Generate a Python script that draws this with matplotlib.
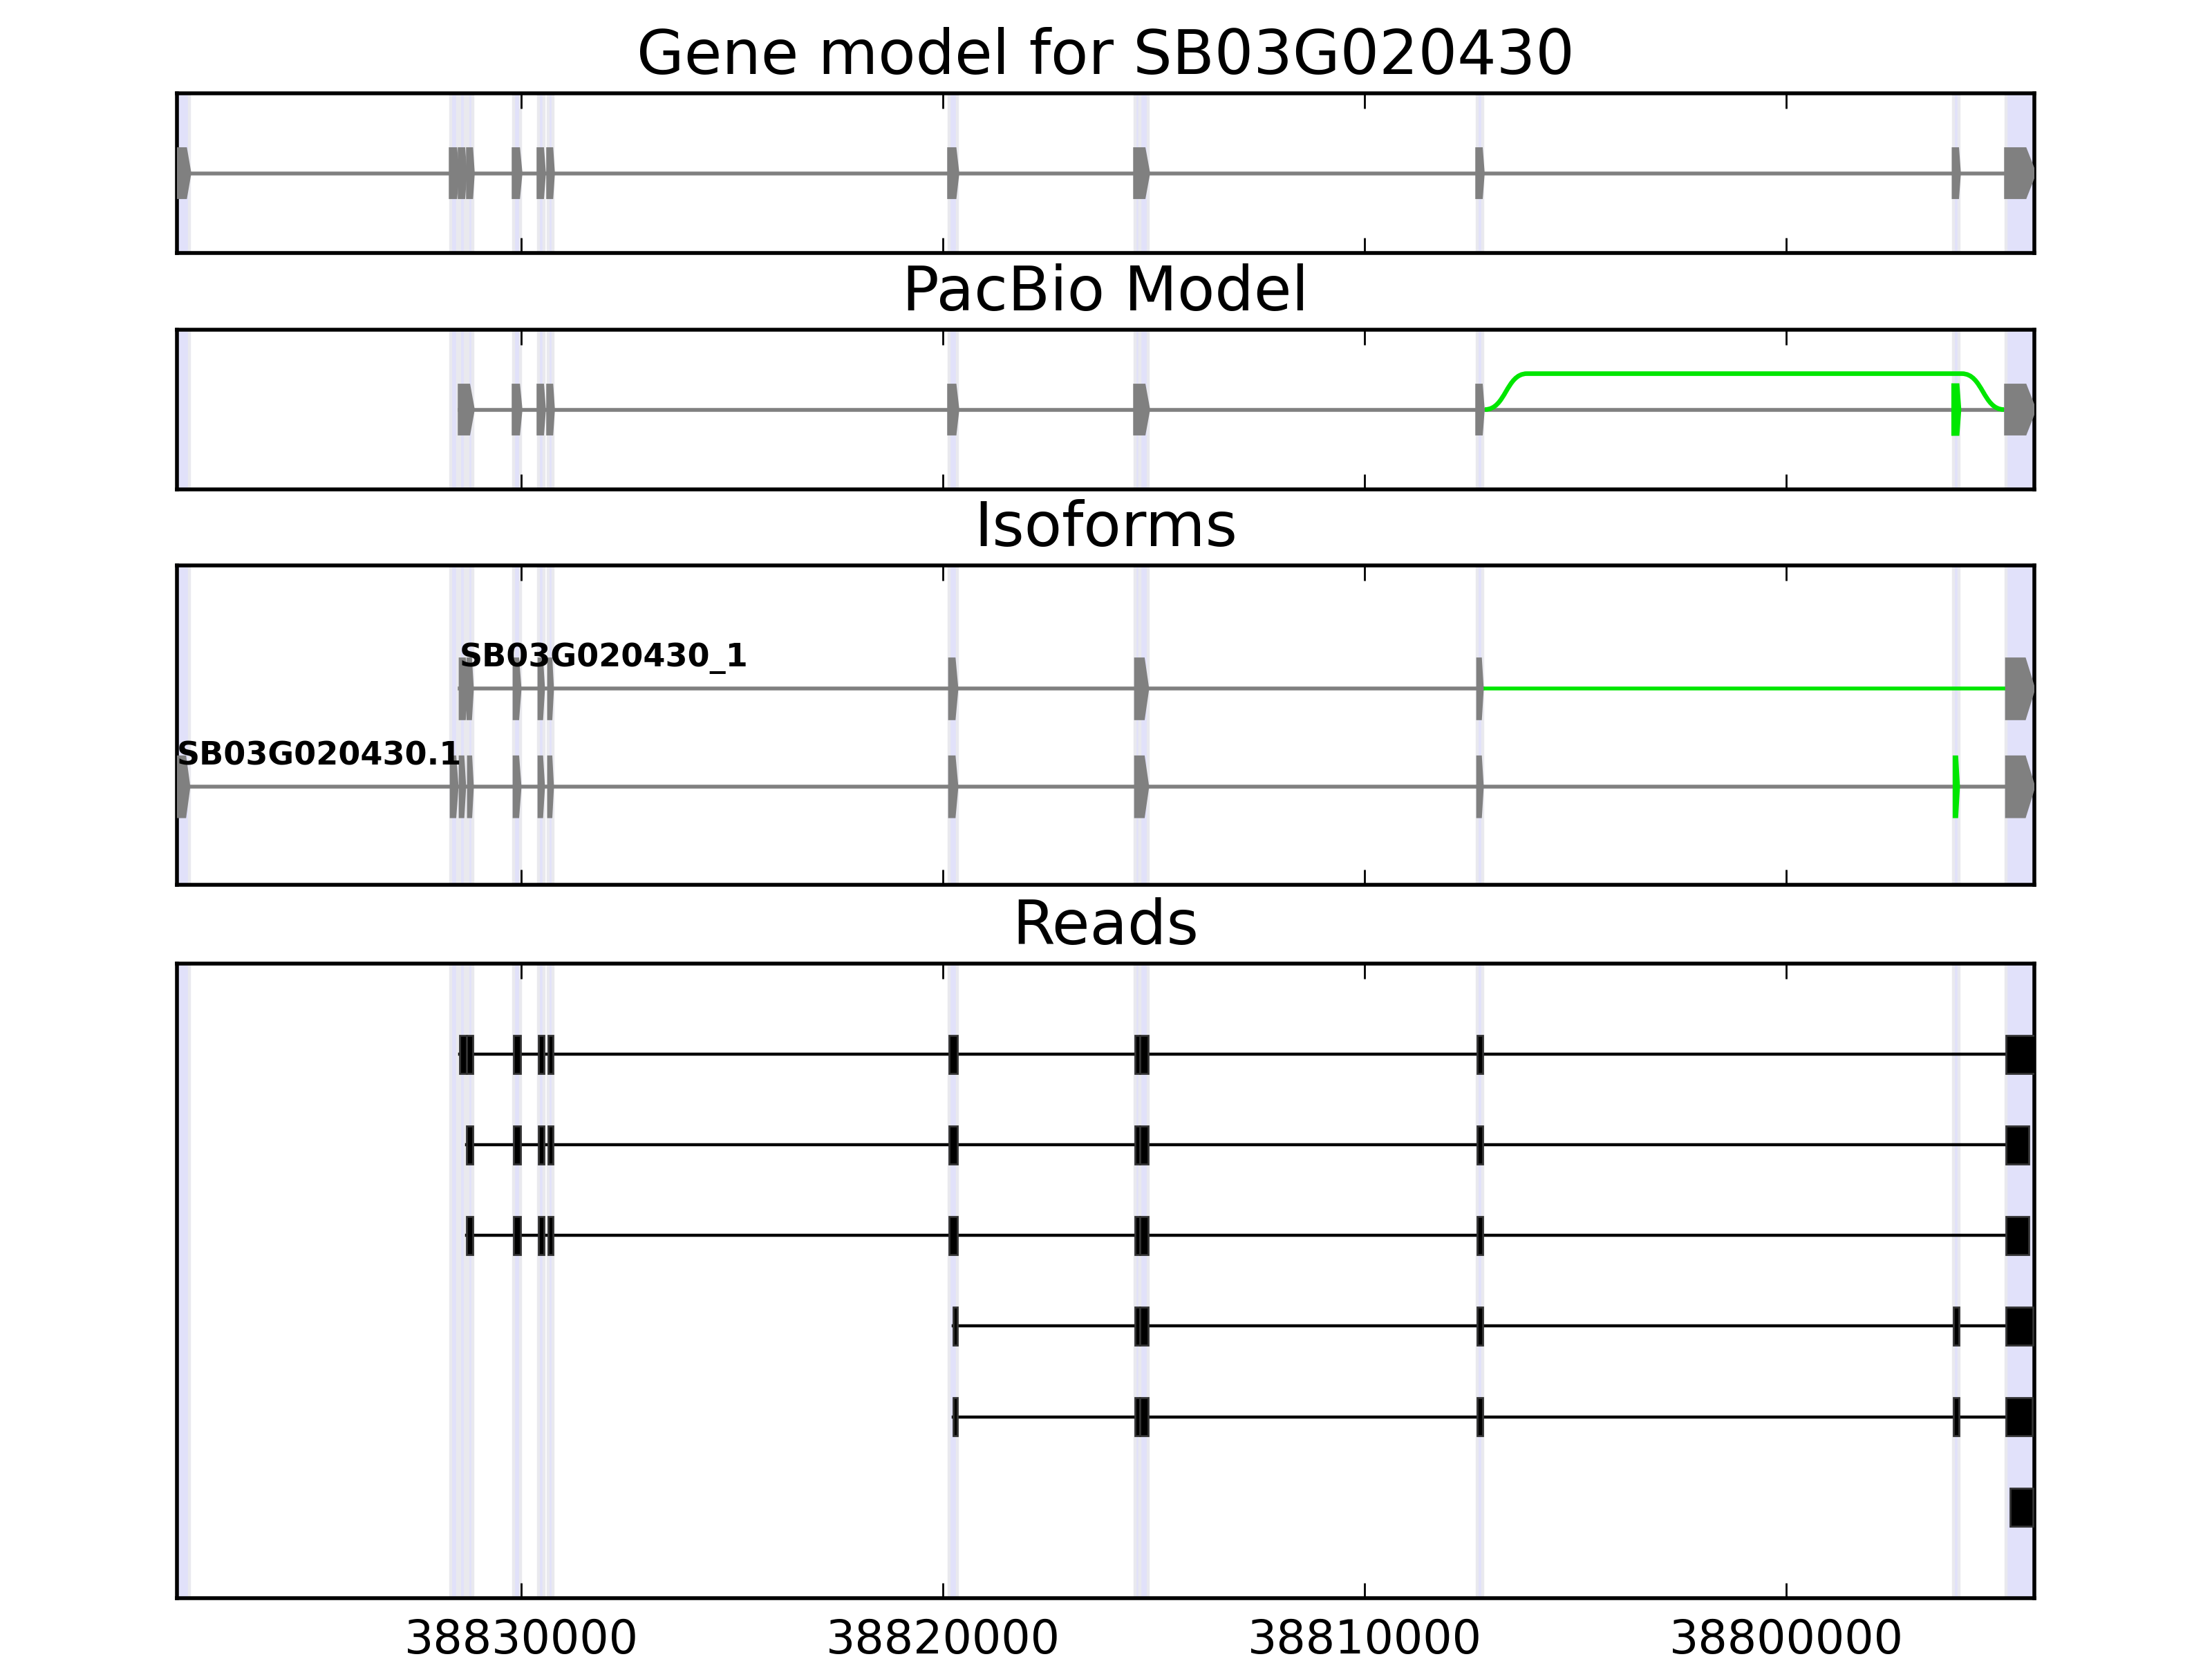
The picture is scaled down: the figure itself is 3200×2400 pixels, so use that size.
import matplotlib
matplotlib.use('Agg')
import matplotlib.pyplot as plt
from matplotlib.patches import Polygon, Rectangle, PathPatch
from matplotlib.path import Path

#DATA (genomic coordinates, minus strand so each exon is (high, low))
gene_name = 'SB03G020430'
view_range = (38838170, 38794115)
tick_vals = [38830000, 38820000, 38810000, 38800000]

E1 = (38838170, 38837875)
E2a = (38831677, 38831513)
E2b = (38831464, 38831333)
E2c = (38831267, 38831152)
E3 = (38830185, 38830021)
E4 = (38829595, 38829464)
E5 = (38829366, 38829251)
E6 = (38819856, 38819659)
E7a = (38815445, 38815331)
E7b = (38815331, 38815134)
E7 = (38815445, 38815134)
E8 = (38807330, 38807198)
E9 = (38796030, 38795903)
E10 = (38794787, 38794115)

#shaded exon intervals shown in every panel
highlight = [E1, E2a, E2b, E2c, E3, E4, E5, E6, E7a, E7b, E8, E9, (38794787, 38794000)]

gene_exons = [E1, E2a, E2b, E2c, E3, E4, E5, E6, E7, E8, E9, E10]

pacbio_exons = [(38831464, 38831152), E3, E4, E5, E6, E7, E8, E10]
pacbio_alt_exon = E9
pacbio_alt_junction = (38807149, 38794836)

iso_names = ['SB03G020430_1', 'SB03G020430.1']
iso_1_exons = [(38831464, 38831280), (38831280, 38831152), E3, E4, E5, E6, E7, E8, E10]
iso_1_green_intron = (38807198, 38794700)
iso_2_exons = [E1, E2a, E2b, E2c, E3, E4, E5, E6, E7, E8, E10]
iso_2_green_exons = [E9]

read_1 = [(38831464, 38831300), (38831300, 38831152), E3, E4, E5, E6, E7a, E7b, E8, (38794787, 38794000)]
read_2 = [(38831300, 38831152), E3, E4, E5, E6, E7a, E7b, E8, (38794787, 38794246)]
read_3 = [(38831300, 38831152), E3, E4, E5, E6, E7a, E7b, E8, (38794787, 38794246)]
read_4 = [(38819757, 38819659), E7a, E7b, E8, E9, (38794787, 38794148)]
read_5 = [(38819757, 38819659), E7a, E7b, E8, E9, (38794787, 38794164)]
read_6 = [(38794689, 38794148)]
reads = [read_1, read_2, read_3, read_4, read_5, read_6]

GREY = '#808080'
GREEN = '#00e600'
BAND = '#e1e1fa'

plt.rcParams['axes.linewidth'] = 1.0
plt.rcParams['font.family'] = 'DejaVu Sans'


def draw_exon(ax, exon, y, h, color, lw):
    start, end = exon
    tip = (start - end) / 3.0
    pts = [(start, y + h / 2), (end + tip, y + h / 2), (end, y), (end + tip, y - h / 2), (start, y - h / 2)]
    ax.add_patch(Polygon(pts, closed=True, fc=color, ec=color, lw=lw, zorder=3))


def setup(ax, title, ylim, labels=False):
    ax.set_xlim(view_range)
    ax.set_ylim(ylim)
    ax.set_yticks([])
    ax.set_xticks(tick_vals)
    ax.set_xticklabels([str(t) for t in tick_vals])
    ax.tick_params(axis='x', direction='in', top=True, bottom=True, length=4, width=0.5,
                   labelsize=12, pad=5, labelbottom=labels)
    ax.set_title(title, fontsize=16, pad=5)
    for s, e in highlight:
        ax.axvspan(s, e, facecolor=BAND, edgecolor='#e9e9ee', lw=0.8, zorder=0)


fig = plt.figure(figsize=(8, 6), dpi=400)
ax1 = fig.add_axes([0.08, 0.8475, 0.8397, 0.09625])
ax2 = fig.add_axes([0.08, 0.705, 0.8397, 0.09625])
ax3 = fig.add_axes([0.08, 0.4667, 0.8397, 0.1925])
ax4 = fig.add_axes([0.08, 0.0367, 0.8397, 0.3825])

#GENE MODEL
setup(ax1, 'Gene model for ' + gene_name, (0, 1))
ax1.plot([gene_exons[0][0], gene_exons[-1][0]], [0.5, 0.5], color=GREY, lw=1, zorder=2)
for ex in gene_exons:
    draw_exon(ax1, ex, 0.5, 0.3, GREY, 1.0)

#PACBIO MODEL
setup(ax2, 'PacBio Model', (0, 1))
ax2.plot([pacbio_exons[0][0], pacbio_exons[-1][0]], [0.5, 0.5], color=GREY, lw=1, zorder=2)
for ex in pacbio_exons:
    draw_exon(ax2, ex, 0.5, 0.3, GREY, 1.0)
draw_exon(ax2, pacbio_alt_exon, 0.5, 0.3, GREEN, 1.2)
s, e = pacbio_alt_junction
r = 1000
top = 0.725
verts = [(s, 0.5), (s - r / 2, 0.5), (s - r / 2, top), (s - r, top),
         (e + r, top), (e + r / 2, top), (e + r / 2, 0.5), (e, 0.5)]
codes = [Path.MOVETO, Path.CURVE4, Path.CURVE4, Path.CURVE4,
         Path.LINETO, Path.CURVE4, Path.CURVE4, Path.CURVE4]
ax2.add_patch(PathPatch(Path(verts, codes), fc='none', ec=GREEN, lw=1.2, zorder=4))

#ISOFORMS
setup(ax3, 'Isoforms', (0, 3.26))
iso_rows = [2, 1]
iso_h = 0.62
#top isoform
y = iso_rows[0]
ax3.plot([iso_1_exons[0][0], iso_1_green_intron[0]], [y, y], color=GREY, lw=1, zorder=2)
ax3.plot(list(iso_1_green_intron), [y, y], color=GREEN, lw=1, zorder=2)
for ex in iso_1_exons:
    draw_exon(ax3, ex, y, iso_h, GREY, 0.5)
ax3.text(iso_1_exons[0][0], y + 0.226, iso_names[0], fontsize=8.3, fontweight='bold',
         ha='left', va='baseline', zorder=5)
#bottom isoform
y = iso_rows[1]
ax3.plot([iso_2_exons[0][0], iso_2_exons[-1][0]], [y, y], color=GREY, lw=1, zorder=2)
for ex in iso_2_exons:
    draw_exon(ax3, ex, y, iso_h, GREY, 0.5)
for ex in iso_2_green_exons:
    draw_exon(ax3, ex, y, iso_h, GREEN, 0.5)
ax3.text(iso_2_exons[0][0], y + 0.226, iso_names[1], fontsize=8.3, fontweight='bold',
         ha='left', va='baseline', zorder=5)

#READS
setup(ax4, 'Reads', (0, 7), labels=True)
read_h = 0.42
for i, rd in enumerate(reads):
    y = len(reads) - i
    if len(rd) > 1:
        ax4.plot([rd[0][0], rd[-1][0]], [y, y], color='black', lw=0.8, zorder=2)
    for s, e in rd:
        ax4.add_patch(Rectangle((e, y - read_h / 2), s - e, read_h, fc='black', ec='0.2',
                                lw=0.5, zorder=3))

fig.savefig('out.png', dpi=400)
